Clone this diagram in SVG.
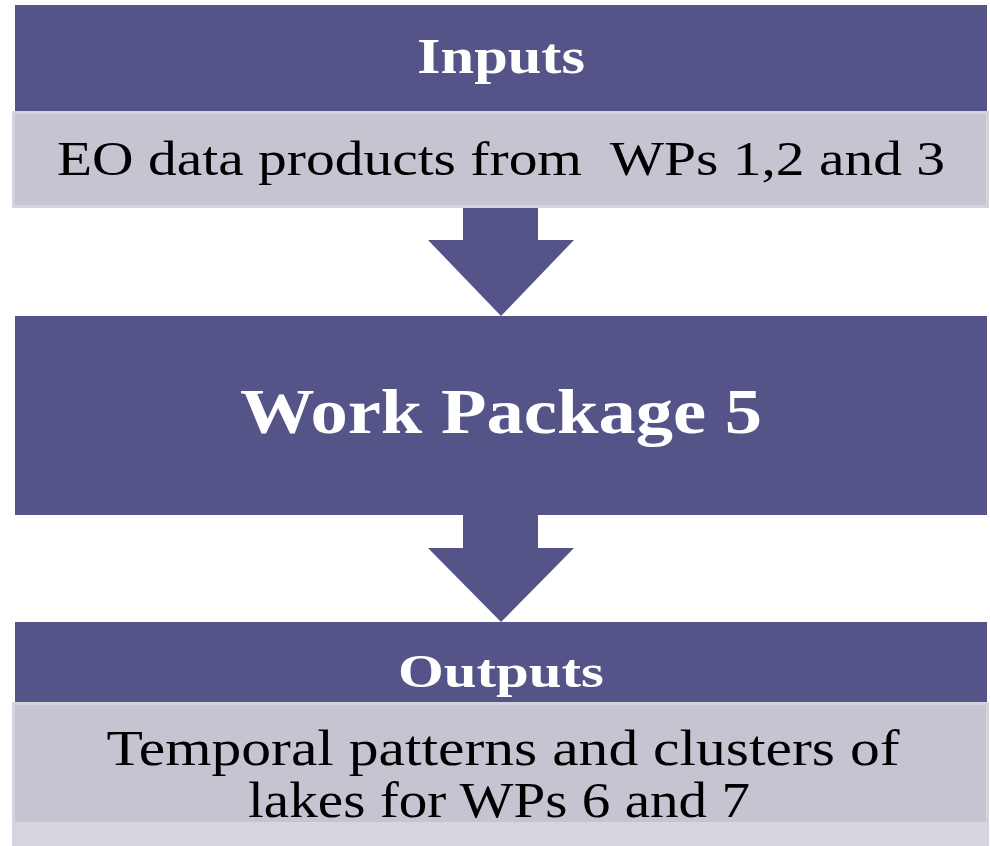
<svg xmlns="http://www.w3.org/2000/svg" width="990" height="846" viewBox="0 0 990 846">
  <style>
    .band { fill: #545488; }
    .panel { fill: #c5c5d2; stroke: #d4d4de; stroke-width: 3; }
    .arrow { fill: #545488; }
    .head { font-family: "Liberation Serif", "DejaVu Serif", serif; font-weight: bold; fill: #ffffff; text-anchor: middle; }
    .body { font-family: "Liberation Serif", "DejaVu Serif", serif; fill: #000000; text-anchor: middle; }
  </style>
  <rect width="990" height="846" fill="#ffffff"/>

  <g id="connectors">
    <polygon class="arrow" points="463,207 538,207 538,240 574,240 501,316 428,240 463,240"/>
    <polygon class="arrow" points="463,515 538,515 538,548 574,548 501,622 428,548 463,548"/>
  </g>

  <g id="inputs">
    <rect class="band" x="15" y="5" width="972" height="106"/>
    <text class="head" x="501" y="73" font-size="50" textLength="168" lengthAdjust="spacingAndGlyphs">Inputs</text>
    <rect class="panel" x="13.5" y="112.5" width="974" height="94"/>
    <text class="body" x="501" y="175" font-size="49" textLength="888" lengthAdjust="spacingAndGlyphs" xml:space="preserve">EO data products from  WPs 1,2 and 3</text>
  </g>

  <g id="work-package">
    <rect class="band" x="15" y="316" width="972" height="199"/>
    <text class="head" x="501" y="433" font-size="64" textLength="522" lengthAdjust="spacingAndGlyphs">Work Package 5</text>
  </g>

  <g id="outputs">
    <rect class="band" x="15" y="622" width="972" height="80"/>
    <text class="head" x="501" y="687" font-size="47" textLength="206" lengthAdjust="spacingAndGlyphs">Outputs</text>
    <rect class="panel" x="13.5" y="703.5" width="974" height="150"/>
    <rect x="15" y="822" width="971" height="24" fill="#d6d6e0"/>
    <text class="body" x="503" y="765" font-size="51" textLength="793" lengthAdjust="spacingAndGlyphs">Temporal patterns and clusters of</text>
    <text class="body" x="499" y="817" font-size="51" textLength="502" lengthAdjust="spacingAndGlyphs">lakes for WPs 6 and 7</text>
  </g>
</svg>
